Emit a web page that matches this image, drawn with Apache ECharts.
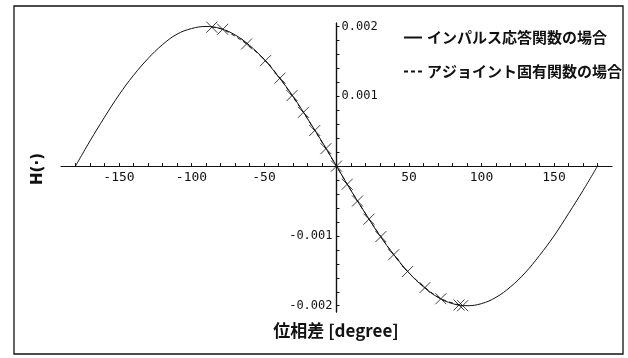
<!DOCTYPE html>
<html>
<head>
<meta charset="utf-8">
<script src="https://cdn.jsdelivr.net/npm/echarts@6/dist/echarts.min.js"></script>
<style>
  html, body { margin: 0; padding: 0; background: #fff; }
  #chart { width: 628px; height: 358px; }
</style>
</head>
<body>
<div id="chart"></div>
<script>
// Phase difference [degree] and H(·) for the impulse-response case (solid)
const phaseImpulse = [-180, -170, -160, -150, -140, -130, -120, -110, -100, -90,
  -80, -70, -60, -50, -40, -30, -20, -10, 0, 10, 20, 30, 40, 50, 60, 70, 80, 90,
  100, 110, 120, 130, 140, 150, 160, 170, 180];
const hImpulse = [0, 0.00036, 0.00070, 0.00102, 0.00130, 0.00154, 0.00174, 0.00189, 0.00197, 0.00200,
  0.00197, 0.00188, 0.00173, 0.00153, 0.00128, 0.00100, 0.00068, 0.00035, 0, -0.00035, -0.00068,
  -0.00100, -0.00128, -0.00153, -0.00173, -0.00188, -0.00197, -0.00200,
  -0.00197, -0.00188, -0.00173, -0.00153, -0.00128, -0.00100, -0.00068, -0.00035, 0];

// Adjoint eigenfunction case (dashed, with × markers)
const phaseAdjoint = [-86, -78.5, -62, -49, -39, -30.7, -22.8, -15, -7.3, 0,
  7.4, 14.5, 22.4, 30.6, 39.4, 49, 61, 72, 84.5, 87];
const hAdjoint = [0.00199, 0.00196, 0.00175, 0.00151, 0.00126, 0.00101, 0.00077, 0.00051, 0.00025, 0,
  -0.00026, -0.00050, -0.00076, -0.00101, -0.00127, -0.00151, -0.00174, -0.00190, -0.00199, -0.00200];

// Tick labels and tick positions
const xTickLabels = [-150, -100, -50, 50, 100, 150];
const xTicks = [-180, -170, -160, -150, -140, -130, -120, -110, -100, -90, -80, -70, -60, -50, -40,
  -30, -20, -10, 10, 20, 30, 40, 50, 60, 70, 80, 90, 100, 110, 120, 130, 140, 150, 160, 170, 180];
const yTickLabelsNeg = [-0.002, -0.001];
const yTickLabelsPos = [0.001, 0.002];
const yTicks = [-0.002, -0.0018, -0.0016, -0.0014, -0.0012, -0.001, -0.0008, -0.0006, -0.0004, -0.0002,
  0.0002, 0.0004, 0.0006, 0.0008, 0.001, 0.0012, 0.0014, 0.0016, 0.0018, 0.002];

const nameImpulse = 'インパルス応答関数の場合';
const nameAdjoint = 'アジョイント固有関数の場合';

const pairs = (xs, ys) => xs.map((x, i) => [x, ys[i]]);

const ink = '#111';
const monoFont = 'DejaVu Sans Mono';
const cjkFont = '"Noto Sans CJK JP", "Noto Sans", sans-serif';

const yBase = {
  type: 'value', min: -0.00209, max: 0.00205, splitLine: { show: false },
  axisLine: { onZero: false, lineStyle: { color: ink, width: 1.2 } }
};

const chart = echarts.init(document.getElementById('chart'), null, { renderer: 'canvas' });
chart.setOption({
  backgroundColor: '#fff',
  animation: false,
  grid: { left: 61, right: 16, top: 23, bottom: 46, outerBoundsMode: 'none', containLabel: false },
  xAxis: {
    type: 'value', min: -190, max: 190, splitLine: { show: false }, position: 'bottom',
    axisLine: { onZero: false, lineStyle: { color: ink, width: 1.2 } },
    axisTick: { inside: true, length: 3, customValues: xTicks, lineStyle: { color: ink } },
    axisLabel: { margin: 5, customValues: xTickLabels, fontFamily: monoFont, fontSize: 13, color: ink }
  },
  yAxis: [
    Object.assign({}, yBase, {
      position: 'left',
      axisTick: { inside: true, length: 3, customValues: yTicks, lineStyle: { color: ink } },
      axisLabel: { margin: 4, customValues: yTickLabelsNeg, fontFamily: monoFont, fontSize: 12, color: ink }
    }),
    Object.assign({}, yBase, {
      position: 'right',
      axisTick: { show: false },
      axisLabel: { margin: 5, customValues: yTickLabelsPos, fontFamily: monoFont, fontSize: 12, color: ink }
    })
  ],
  legend: {
    orient: 'vertical', left: 398, top: 25, itemWidth: 18, itemHeight: 14, itemGap: 19,
    data: [nameImpulse, nameAdjoint],
    itemStyle: { opacity: 0 },
    textStyle: { fontFamily: cjkFont, fontSize: 15, fontWeight: 'bold', color: ink }
  },
  graphic: [
    { type: 'rect', shape: { x: 14, y: 6, width: 609, height: 348 },
      style: { fill: 'none', stroke: ink, lineWidth: 1.3 }, silent: true },
    { type: 'text', x: 336, y: 331,
      style: { text: '位相差 [degree]', font: 'bold 17px ' + cjkFont, fill: ink,
               textAlign: 'center', textVerticalAlign: 'middle' } },
    { type: 'text', x: 38, y: 169, rotation: Math.PI / 2,
      style: { text: 'H(·)', font: 'bold 15px "DejaVu Sans", sans-serif', fill: ink,
               textAlign: 'center', textVerticalAlign: 'middle' } }
  ],
  series: [
    {
      name: nameImpulse, type: 'line', smooth: 0.4, symbol: 'none',
      data: pairs(phaseImpulse, hImpulse),
      lineStyle: { color: ink, width: 1 }, itemStyle: { color: ink }
    },
    {
      name: nameAdjoint, type: 'line', symbol: 'none', smooth: 0.3,
      data: pairs(phaseAdjoint, hAdjoint),
      lineStyle: { color: ink, width: 1, type: [4, 3] }, itemStyle: { color: ink }, z: 3
    },
    {
      name: 'adjoint-markers', type: 'scatter',
      symbol: 'path://M0,0L10,10M10,0L0,10', symbolSize: 11,
      data: pairs(phaseAdjoint, hAdjoint),
      itemStyle: { color: 'none', borderColor: ink, borderWidth: 1 }, z: 4
    }
  ]
});

// Move the axes so they cross at the origin (0, 0)
const rect = chart.getModel().getComponent('grid', 0).coordinateSystem.getRect();
const origin = chart.convertToPixel({ gridIndex: 0 }, [0, 0]);
chart.setOption({
  xAxis: { offset: -(rect.y + rect.height - origin[1]) },
  yAxis: [
    { offset: -(origin[0] - rect.x) },
    { offset: -(rect.x + rect.width - origin[0]) }
  ]
});
</script>
</body>
</html>
